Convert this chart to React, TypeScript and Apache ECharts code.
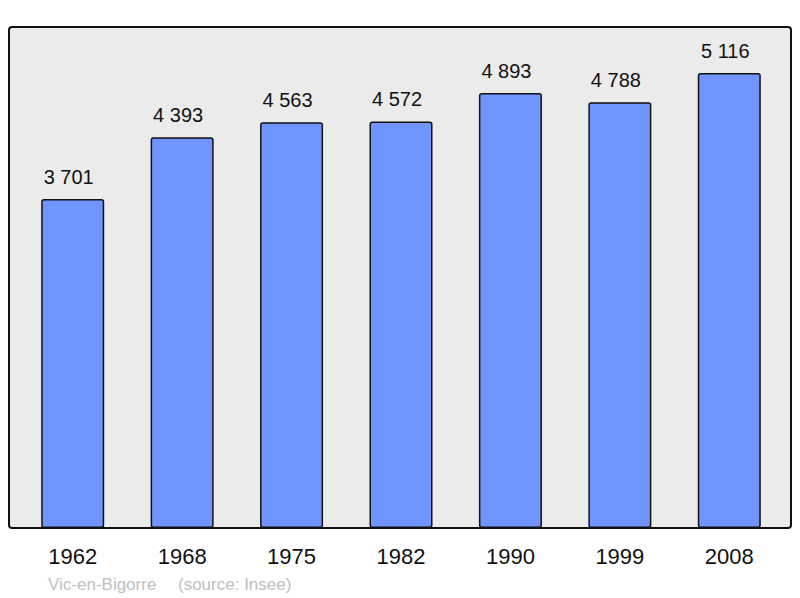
import React, { useEffect, useRef } from "react";
import * as echarts from "echarts";

const years = ["1962", "1968", "1975", "1982", "1990", "1999", "2008"];
const population = [3701, 4393, 4563, 4572, 4893, 4788, 5116];
const townName = "Vic-en-Bigorre";
const sourceNote = "(source: Insee)";

const fmt = (v: number) => {
  const s = String(v);
  return s.length > 3 ? s.slice(0, s.length - 3) + " " + s.slice(-3) : s;
};

export default function App() {
  const ref = useRef<HTMLDivElement>(null);
  useEffect(() => {
    if (!ref.current) return;
    const chart = echarts.init(ref.current, undefined, { renderer: "svg" });
    chart.setOption({
      animation: false,
      backgroundColor: "#ffffff",
      textStyle: { fontFamily: "Liberation Sans, Arial, sans-serif" },
      graphic: [
        {
          type: "rect",
          z: -10,
          shape: { x: 9, y: 27, width: 782, height: 501, r: 3 },
          style: { fill: "#ebebeb", stroke: "#111111", lineWidth: 2 },
        },
        {
          type: "text",
          x: 48,
          y: 584,
          style: {
            text: townName,
            fill: "#c0c0c0",
            font: "17px 'Liberation Sans', Arial, sans-serif",
            verticalAlign: "middle",
          },
        },
        {
          type: "text",
          x: 178,
          y: 584,
          style: {
            text: sourceNote,
            fill: "#c0c0c0",
            font: "17px 'Liberation Sans', Arial, sans-serif",
            verticalAlign: "middle",
          },
        },
      ],
      grid: { left: 18, right: 16, top: 27, bottom: 70, containLabel: false },
      xAxis: {
        type: "category",
        data: years,
        axisLine: { show: false },
        axisTick: { show: false },
        axisLabel: {
          color: "#111111",
          fontSize: 22,
          margin: 17,
          fontFamily: "Liberation Sans, Arial, sans-serif",
        },
      },
      yAxis: {
        type: "value",
        min: 0,
        max: 5634,
        show: false,
        splitLine: { show: false },
      },
      series: [
        {
          type: "bar",
          data: population,
          barWidth: 63,
          itemStyle: {
            color: "#7095ff",
            borderColor: "#111111",
            borderWidth: 1.5,
            borderRadius: 2,
          },
          label: {
            show: true,
            position: "top",
            distance: 12,
            offset: [-4, 0],
            color: "#111111",
            fontSize: 20,
            fontFamily: "Liberation Sans, Arial, sans-serif",
            formatter: (p: any) => fmt(p.value),
          },
        },
      ],
    });
    return () => chart.dispose();
  }, []);
  return <div ref={ref} style={{ width: 800, height: 598, position: "absolute", left: 0, top: 0 }} />;
}
